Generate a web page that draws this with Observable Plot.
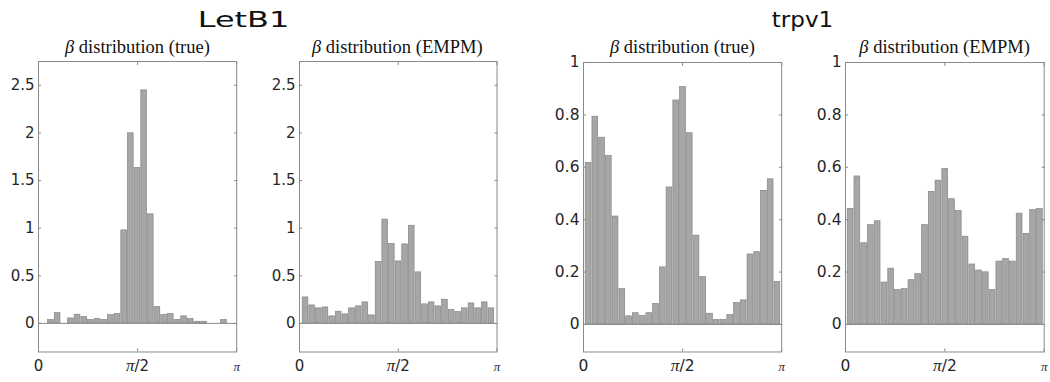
<!DOCTYPE html>
<html><head><meta charset="utf-8">
<script src="https://cdn.jsdelivr.net/npm/d3@7"></script>
<script src="https://cdn.jsdelivr.net/npm/@observablehq/plot@0.6"></script>
<style>
body{margin:0;background:#fff;}
#root{position:relative;width:1050px;height:382px;overflow:hidden;}
#root svg{position:absolute;}
</style></head><body><div id="root"></div>
<script>
// ---- data ----
const groupTitles = ["LetB1", "trpv1"];
const panelTitles = ["β distribution (true)", "β distribution (EMPM)", "β distribution (true)", "β distribution (EMPM)"];
const xTickValues = [0, Math.PI / 2, Math.PI];
const xTickLabels = ["0", "π/2", "π"];
const letb1Ticks = [0, 0.5, 1, 1.5, 2, 2.5];
const trpv1Ticks = [0, 0.2, 0.4, 0.6, 0.8, 1];
const letb1Domain = [-0.3, 2.75];
const trpv1Domain = [-0.105, 1];

// histogram bins: first edge (rad), bin width (rad), bar heights
const letb1TrueStart = 0.1447, letb1TrueWidth = 0.1055;
const letb1True = [0.035, 0.108, 0, 0.052, 0.091, 0.066, 0.035, 0.045, 0.035, 0.088, 0.098, 0.977, 1.996, 1.632, 2.447, 1.145, 0.172, 0.088, 0.098, 0.035, 0.074, 0.045, 0.017, 0.017, 0, 0, 0.035];
const letb1EmpmStart = 0.043, letb1EmpmWidth = 0.1056;
const letb1Empm = [0.273, 0.189, 0.158, 0.168, 0.074, 0.123, 0.095, 0.158, 0.179, 0.221, 0.084, 0.644, 1.09, 0.833, 0.651, 0.83, 1.025, 0.536, 0.20, 0.221, 0.179, 0.249, 0.14, 0.119, 0.158, 0.21, 0.158, 0.221, 0.158];
const trpv1TrueStart = 0.027, trpv1TrueWidth = 0.1069;
const trpv1True = [0.617, 0.793, 0.713, 0.643, 0.412, 0.135, 0.031, 0.043, 0.032, 0.043, 0.078, 0.218, 0.523, 0.855, 0.906, 0.73, 0.339, 0.181, 0.041, 0.017, 0.017, 0.036, 0.082, 0.092, 0.267, 0.276, 0.51, 0.554, 0.162];
const trpv1EmpmStart = 0.027, trpv1EmpmWidth = 0.1069;
const trpv1Empm = [0.441, 0.565, 0.310, 0.379, 0.394, 0.160, 0.213, 0.131, 0.135, 0.169, 0.192, 0.379, 0.506, 0.549, 0.594, 0.478, 0.433, 0.335, 0.229, 0.206, 0.199, 0.132, 0.240, 0.250, 0.240, 0.423, 0.346, 0.437, 0.441];

// ---- layout ----
const root = document.getElementById("root");
const frames = [
  {left: 38.3, right: 236.5, top: 61},
  {left: 298.5, right: 496, top: 61},
  {left: 583.3, right: 781.5, top: 62},
  {left: 845.3, right: 1044, top: 62}
];
const frameBottom = 351.5;
const axisColor = "#8a8a8a", labelColor = "#262626";

const panels = [
  {values: letb1True, start: letb1TrueStart, bw: letb1TrueWidth, domain: letb1Domain, ticks: letb1Ticks, fs: 15},
  {values: letb1Empm, start: letb1EmpmStart, bw: letb1EmpmWidth, domain: letb1Domain, ticks: letb1Ticks, fs: 15},
  {values: trpv1True, start: trpv1TrueStart, bw: trpv1TrueWidth, domain: trpv1Domain, ticks: trpv1Ticks, fs: 15.5},
  {values: trpv1Empm, start: trpv1EmpmStart, bw: trpv1EmpmWidth, domain: trpv1Domain, ticks: trpv1Ticks, fs: 15.5}
];

panels.forEach((p, k) => {
  const f = frames[k];
  const rows = p.values.map((v, i) => ({x1: p.start + i * p.bw, x2: p.start + (i + 1) * p.bw, y0: 0, y: v}));
  const mL = 40, mR = 4, mT = 2, mB = 30;
  const W = (f.right - f.left) + mL + mR, H = (frameBottom - f.top) + mT + mB;
  const svg = Plot.plot({
    width: W, height: H, marginLeft: mL, marginRight: mR, marginTop: mT, marginBottom: mB,
    x: {domain: [0, Math.PI]},
    y: {domain: p.domain},
    style: {fontFamily: "DejaVu Sans", fontSize: p.fs + "px", color: labelColor, background: "transparent", overflow: "visible"},
    marks: [
      Plot.rectY(rows, {x1: "x1", x2: "x2", y1: "y0", y2: "y", fill: "#a6a6a6", stroke: "#858585", strokeWidth: 0.7, insetLeft: 0.5, insetRight: 0.5}),
      Plot.ruleY([0], {stroke: axisColor, strokeWidth: 1}),
      Plot.frame({stroke: axisColor, strokeWidth: 1}),
      Plot.axisY(p.ticks, {anchor: "left", tickSize: 0, tickPadding: 4, fill: labelColor, tickFormat: d => String(d)}),
      Plot.axisY(p.ticks, {anchor: "left", tickSize: -3, text: null, stroke: axisColor}),
      Plot.axisY(p.ticks, {anchor: "right", tickSize: -3, text: null, stroke: axisColor}),
      Plot.axisX(xTickValues, {anchor: "bottom", tickSize: 0, tickPadding: 8, fill: labelColor, tickFormat: (d, i) => xTickLabels[i]}),
      Plot.axisX(xTickValues, {anchor: "bottom", tickSize: -3, text: null, stroke: axisColor}),
      Plot.axisX(xTickValues, {anchor: "top", tickSize: -3, text: null, stroke: axisColor})
    ]
  });
  svg.style.left = (f.left - mL) + "px";
  svg.style.top = (f.top - mT) + "px";
  // serif italic pi in x labels
  d3.select(svg).selectAll('g[aria-label="x-axis tick label"] text').each(function () {
    const t = d3.select(this);
    const s = t.text();
    if (s.includes("π")) {
      t.text(null);
      t.append("tspan").attr("font-family", "Liberation Serif").attr("font-style", "italic")
        .attr("font-size", s === "π" ? "13px" : (p.fs + 2) + "px").text("π");
      if (s.length > 1) t.append("tspan").text(s.slice(1));
    }
  });
  root.appendChild(svg);
});

// titles overlay
const over = d3.create("svg").attr("width", 1050).attr("height", 60).style("left", "0px").style("top", "0px");
const titleSpecs = [{x: 243.5, sx: 1.45}, {x: 802.5, sx: 1.05}];
groupTitles.forEach((t, i) => {
  over.append("g").attr("transform", `translate(${titleSpecs[i].x},27) scale(${titleSpecs[i].sx},1)`)
    .append("text").attr("text-anchor", "middle")
    .attr("font-family", "DejaVu Sans").attr("font-size", 22).attr("fill", "#111").text(t);
});
panelTitles.forEach((t, i) => {
  const f = frames[i];
  const txt = over.append("text").attr("x", (f.left + f.right) / 2).attr("y", 53).attr("text-anchor", "middle")
    .attr("font-family", "Liberation Serif").attr("font-size", 18.5).attr("fill", "#111");
  txt.append("tspan").attr("font-style", "italic").text(t[0]);
  txt.append("tspan").text(t.slice(1));
});
root.appendChild(over.node());
</script>
</body></html>
